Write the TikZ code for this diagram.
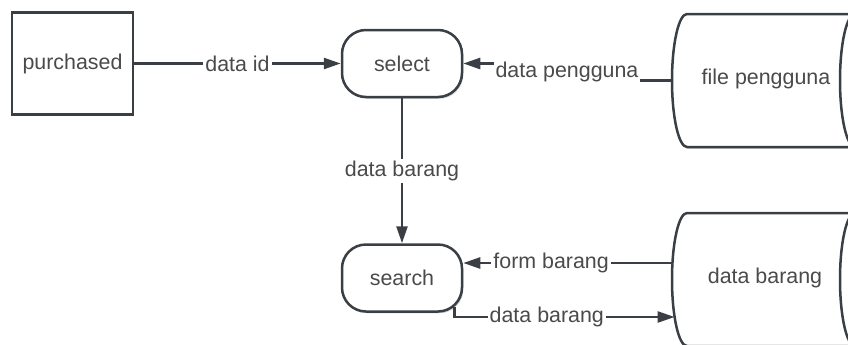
\documentclass[tikz,border=0pt]{standalone}
\usepackage{fontspec}
\setmainfont{Liberation Sans}
\usetikzlibrary{arrows.meta,shadows}
\definecolor{ink}{HTML}{3A3F45}
\definecolor{txt}{HTML}{4A4A4A}
\begin{document}
\begin{tikzpicture}[x=0.5pt,y=-0.5pt,
  every node/.style={font=\fontsize{10.7pt}{13pt}\selectfont, text=txt},
  line/.style={draw=ink, line width=1.25pt},
  arr/.style={line, -{Triangle[length=8.5pt,width=5.5pt]}},
  lbl/.style={fill=white, inner sep=1pt},
  boxshadow/.style={drop shadow={shadow xshift=0.7pt, shadow yshift=-0.9pt, opacity=0.15, fill=black}},
  entity/.style={line, fill=white, minimum width=60.5pt, minimum height=51pt, inner sep=0pt, boxshadow},
  proc/.style={line, fill=white, rounded corners=12pt, minimum width=60pt, minimum height=33.5pt, inner sep=0pt, boxshadow},
]
\useasboundingbox (0,0) rectangle (848,344);

% data stores (horizontal cylinders running off the right edge)
\begin{scope}
  \clip (0,0) rectangle (848,344);
  \path[line, fill=white, boxshadow] (880,14) -- (687,14)
    arc[start angle=90, end angle=270, x radius=7.5pt, y radius=33.25pt] -- (880,147) -- cycle;
  \draw[line] (855,80.5) ellipse[x radius=7.5pt, y radius=33.25pt];
  \path[line, fill=white, boxshadow] (880,213) -- (687,213)
    arc[start angle=90, end angle=270, x radius=7.5pt, y radius=33.25pt] -- (880,346) -- cycle;
  \draw[line] (855,279.5) ellipse[x radius=7.5pt, y radius=33.25pt];
\end{scope}
\node (fp) at (766,79) {file pengguna};
\node (db) at (765,278) {data barang};
\coordinate (fpL) at (672,80.5);
\coordinate (dbA) at (672.5,263);
\coordinate (dbB) at (674.6,317);

% external entity and processes
\node[entity] (purch) at (72.5,63.5) {purchased};
\node[proc] (select) at (402,63.5) {select};
\node[proc] (search) at (402,278) {search};

% data flows
\draw[arr] (purch.east) -- node[lbl]{data id} (select.west);
\coordinate (pj) at (567,80.5);
\draw[arr] (fpL) -- (pj) |- node[lbl,pos=0.25]{data pengguna} (select.east);
\draw[arr] (select) -- node[lbl]{data barang} (search);
\coordinate (sIn) at ([yshift=7.5pt]search.east);
\draw[arr] (dbA) -- node[lbl,pos=0.58]{form barang} (sIn);
\coordinate (sOut) at ([xshift=-4.5pt,yshift=3pt]search.south east);
\draw[arr] (sOut) |- node[lbl,pos=0.71]{data barang} (dbB);
\end{tikzpicture}
\end{document}
